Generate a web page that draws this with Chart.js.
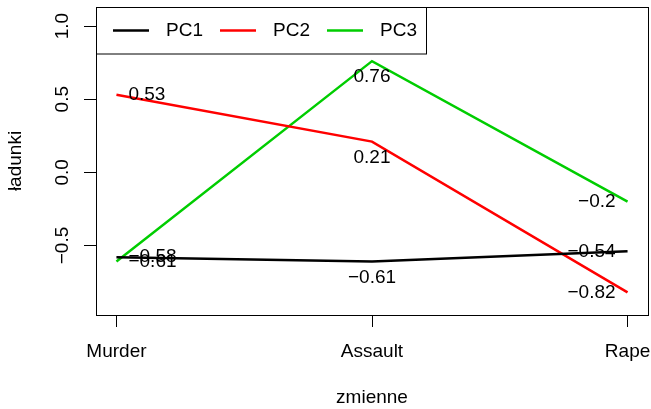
<!DOCTYPE html>
<html>
<head>
<meta charset="utf-8">
<script src="https://cdn.jsdelivr.net/npm/chart.js@4.4.0/dist/chart.umd.min.js"></script>
<style>
  html, body { margin: 0; padding: 0; background: #fff; }
</style>
</head>
<body>
<canvas id="myChart" width="651" height="409"></canvas>
<script>
// loadings of the first three components
var zmienne = ["Murder", "Assault", "Rape"];
var serie = ["PC1", "PC2", "PC3"];
var pc1 = [-0.58, -0.61, -0.54];
var pc2 = [0.53, 0.21, -0.82];
var pc3 = [-0.61, 0.76, -0.2];
var kolory = ["#000000", "#FF0000", "#00CD00"];
var yTicks = [-0.5, 0, 0.5, 1];

var FONT = "'Liberation Sans', Arial, Helvetica, sans-serif";
var SIZE = 19;

function fmt(v) {
  return String(v).replace("-", "\u2212");
}

function punkty(arr) {
  return arr.map(function(v, i) {
    return { x: i + 1, y: v };
  });
}

var dane = [pc1, pc2, pc3];
var datasets = [];
for (var i = 0; i < serie.length; i++) {
  datasets.push({
    label: serie[i],
    data: punkty(dane[i]),
    borderColor: kolory[i],
    backgroundColor: kolory[i],
    borderWidth: 2.5,
    pointRadius: 0,
    tension: 0
  });
}

// box around the plot region, rotated y labels, value labels and legend
var rysunek = {
  id: "rysunek",
  afterDraw: function(chart) {
    var ctx = chart.ctx;
    var ca = chart.chartArea;
    var ys = chart.scales.y;
    ctx.save();
    ctx.strokeStyle = "#000";
    ctx.lineWidth = 1;
    ctx.strokeRect(ca.left + 0.5, ca.top + 0.5, ca.right - ca.left, ca.bottom - ca.top);

    ctx.fillStyle = "#000";
    ctx.font = SIZE + "px " + FONT;
    ctx.textBaseline = "middle";

    // y tick labels, parallel to the axis
    yTicks.forEach(function(t) {
      var py = ys.getPixelForValue(t);
      ctx.save();
      ctx.translate(63, py);
      ctx.rotate(-Math.PI / 2);
      ctx.textAlign = "center";
      ctx.fillText(fmt(t.toFixed(1)), 0, 0);
      ctx.restore();
    });

    // value labels next to each point
    chart.data.datasets.forEach(function(ds, di) {
      var meta = chart.getDatasetMeta(di);
      meta.data.forEach(function(el, j) {
        var txt = fmt(dane[di][j]);
        if (j === 0) {
          ctx.textAlign = "left";
          ctx.fillText(txt, el.x + 12, el.y);
        } else if (j === zmienne.length - 1) {
          ctx.textAlign = "right";
          ctx.fillText(txt, el.x - 12, el.y);
        } else {
          ctx.textAlign = "center";
          ctx.fillText(txt, el.x, el.y + 16);
        }
      });
    });

    // legend in the top left corner
    var lx = ca.left, ly = ca.top;
    ctx.fillStyle = "#fff";
    ctx.fillRect(lx, ly, 330, 46.5);
    ctx.strokeRect(lx + 0.5, ly + 0.5, 330, 46.5);
    ctx.textAlign = "left";
    for (var k = 0; k < serie.length; k++) {
      var x0 = lx + 17 + k * 107;
      ctx.strokeStyle = kolory[k];
      ctx.lineWidth = 2.5;
      ctx.beginPath();
      ctx.moveTo(x0, ly + 23.5);
      ctx.lineTo(x0 + 36, ly + 23.5);
      ctx.stroke();
      ctx.fillStyle = "#000";
      ctx.fillText(serie[k], x0 + 53, ly + 24);
    }
    ctx.restore();
  }
};

var ctx = document.getElementById("myChart").getContext("2d");
var chart = new Chart(ctx, {
  type: "line",
  data: { datasets: datasets },
  options: {
    responsive: false,
    animation: false,
    devicePixelRatio: 1,
    layout: { padding: { top: 7, right: 3, left: 0, bottom: 0 } },
    plugins: {
      legend: { display: false },
      tooltip: { enabled: false }
    },
    scales: {
      x: {
        type: "linear",
        min: 0.92,
        max: 3.08,
        afterBuildTicks: function(scale) {
          scale.ticks = zmienne.map(function(z, i) { return { value: i + 1 }; });
        },
        afterFit: function(scale) {
          scale.height = 94;
          scale.paddingLeft = 0;
          scale.paddingRight = 0;
        },
        ticks: {
          color: "#000",
          padding: 13,
          maxRotation: 0,
          font: { family: FONT, size: SIZE },
          callback: function(v) { return zmienne[v - 1]; }
        },
        grid: { drawOnChartArea: false, drawTicks: true, tickLength: 12, color: "#000" },
        border: { display: false },
        title: {
          display: true,
          text: "zmienne",
          color: "#000",
          font: { family: FONT, size: SIZE },
          padding: { top: 1, bottom: 0 }
        }
      },
      y: {
        min: -0.975,
        max: 1.13,
        afterBuildTicks: function(scale) {
          scale.ticks = yTicks.map(function(t) { return { value: t }; });
        },
        afterFit: function(scale) {
          scale.width = 96;
          scale.paddingTop = 0;
          scale.paddingBottom = 0;
        },
        ticks: { display: false },
        grid: { drawOnChartArea: false, drawTicks: true, tickLength: 12, color: "#000" },
        border: { display: false },
        title: {
          display: true,
          text: "ładunki",
          color: "#000",
          font: { family: FONT, size: SIZE },
          padding: { top: 4, bottom: 0 }
        }
      }
    }
  },
  plugins: [rysunek]
});
</script>
</body>
</html>
